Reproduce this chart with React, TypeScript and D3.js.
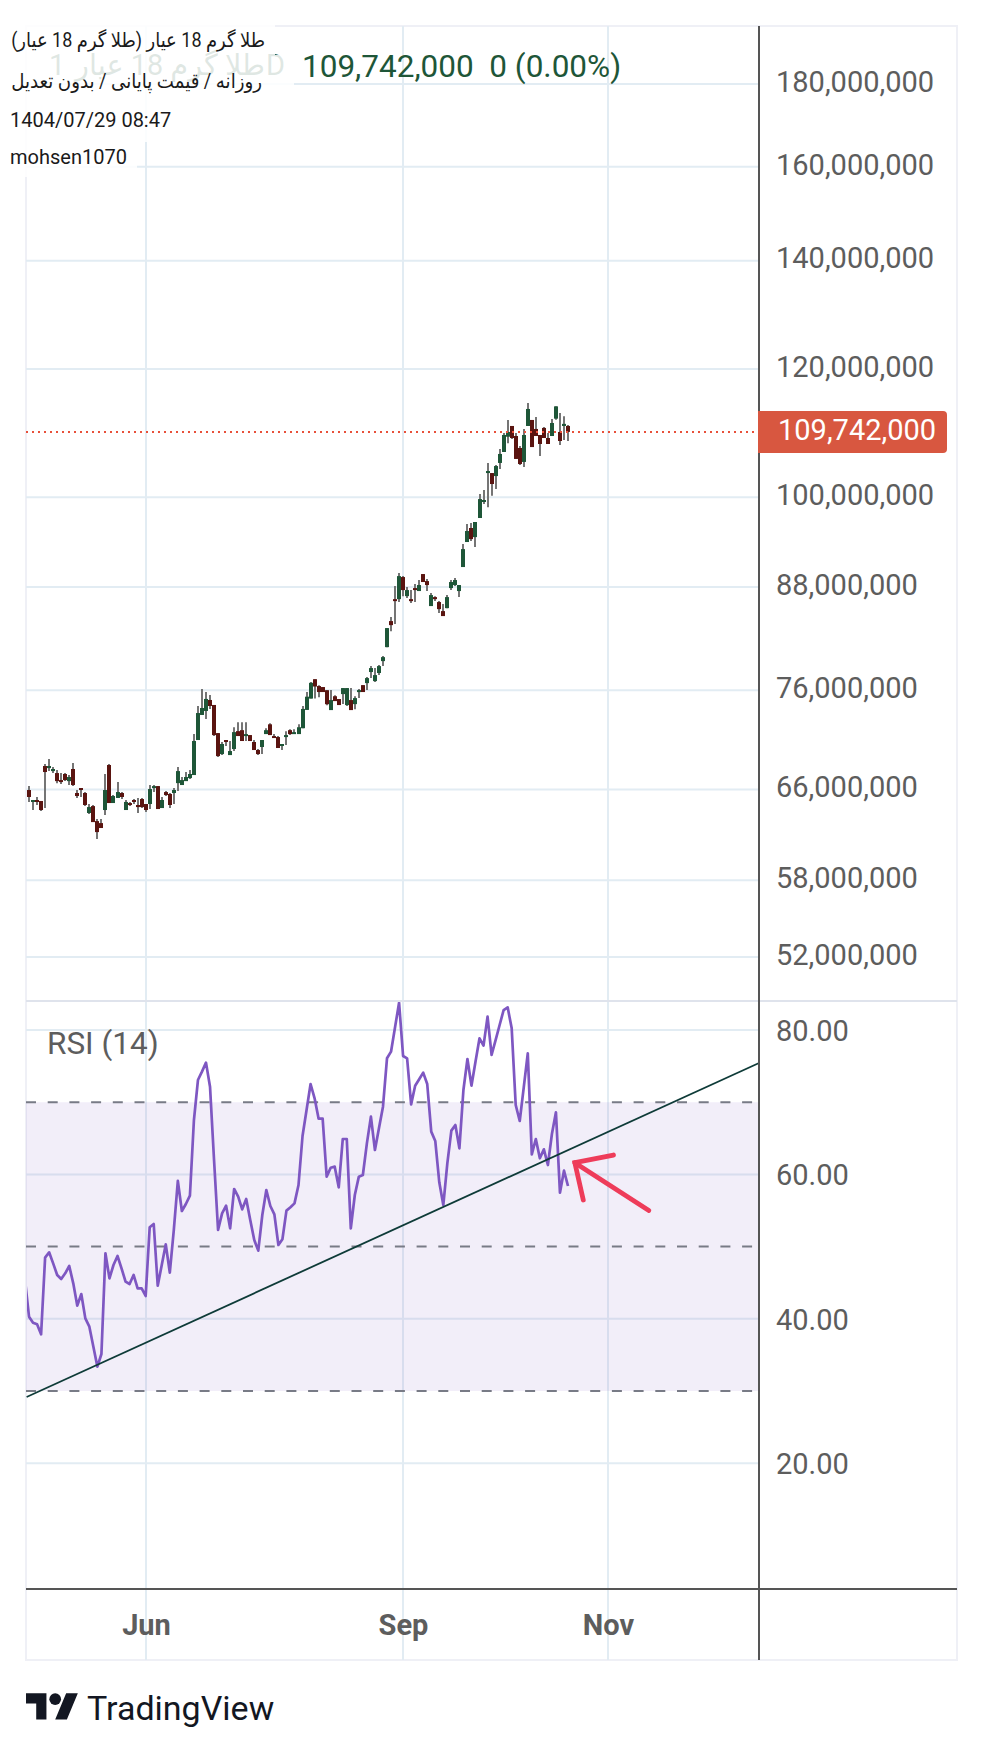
// @ts-nocheck
import * as d3 from 'd3';
import React, { useEffect, useRef } from 'react';

// daily candles, prices in millions
const opens = [
  68.42,
  65.94, 64.83, 65.01, 64.92, 68.23, 68.03, 67.74, 67.55, 66.88, 67.46,
  66.78, 67.94, 65.66, 66.13, 65.66, 63.82, 64.45, 63.09, 62.91, 64.09,
  68.33, 64.73, 65.2, 65.66, 64.09, 64.73, 65.01, 64.55, 65.1, 64.64,
  64.64, 66.13, 66.31, 64.27, 65.75, 65.57, 65.66, 66.59, 66.41, 66.78,
  67.07, 67.36, 70.8, 73.37, 73.79, 74.95, 74.42, 71.5, 69.4, 70.8,
  69.3, 69.9, 71.7, 71.8, 71.2, 71.3, 70.6, 69.8, 70.1, 71.4,
  72.4, 71.2, 71.1, 70.2, 71.1, 71.8, 71.4, 71.4, 72.0, 73.9,
  75.1, 77.2, 76.45, 76.34, 76.0, 73.88, 75.35, 75.05, 75.58, 74.41,
  74.94, 74.51, 75.8, 76.55, 76.77, 77.99, 76.99, 77.88, 79.21, 80.8,
  83.85, 86.51, 86.51, 89.27, 86.88, 86.51, 87.88, 87.51, 89.65, 88.76,
  85.66, 86.76, 86.15, 85.05, 85.41, 87.88, 88.26, 87.51, 90.55, 93.83,
  95.72, 94.49, 97.09, 99.33, 103.5, 103.5, 103.06, 105.0, 106.65, 108.99,
  110.67, 109.1, 107.26, 105.15, 110.67, 111.62, 110.2, 109.26, 110.36, 108.79,
  109.1, 111.83, 109.73, 110.67, 110.67,
];
const closes = [
  66.88,
  65.29, 65.01, 64.83, 64.09, 67.65, 68.23, 67.94, 66.78, 66.69, 66.88,
  67.17, 66.41, 65.38, 65.94, 64.55, 64.36, 63.0, 62.11, 62.47, 65.94,
  64.73, 65.38, 65.75, 65.29, 64.83, 64.55, 64.83, 64.36, 64.36, 64.09,
  66.03, 66.31, 64.18, 65.01, 65.47, 64.55, 65.94, 67.74, 66.88, 67.17,
  67.46, 70.7, 73.57, 74.1, 75.06, 74.31, 71.3, 69.2, 70.4, 70.6,
  69.7, 71.6, 71.2, 70.7, 71.4, 70.7, 69.8, 69.4, 70.8, 71.8,
  71.3, 71.0, 70.0, 70.4, 71.3, 71.4, 71.6, 72.1, 74.0, 75.3,
  76.8, 76.4, 75.8, 75.8, 74.5, 74.94, 74.83, 74.41, 76.23, 76.23,
  73.88, 75.15, 76.01, 75.8, 77.32, 78.43, 77.65, 78.65, 79.66, 83.02,
  83.37, 86.27, 89.39, 87.63, 87.63, 86.27, 87.63, 88.26, 88.64, 88.26,
  87.01, 86.51, 85.29, 84.45, 86.76, 88.64, 88.89, 88.26, 92.89, 95.31,
  94.22, 96.54, 99.74, 99.61, 103.8, 101.9, 104.54, 106.35, 109.26, 109.73,
  108.79, 105.6, 104.84, 109.26, 113.38, 107.4, 109.1, 107.87, 108.79, 107.87,
  111.14, 113.8, 108.33, 111.0, 109.742,
];
const highs = [
  68.42,
  66.31, 65.01, 65.29, 64.92, 68.42, 68.91, 68.13, 67.84, 67.55, 67.55,
  67.36, 68.52, 65.94, 66.13, 65.75, 64.64, 64.55, 63.27, 63.27, 67.46,
  68.42, 65.47, 66.69, 65.75, 65.01, 64.83, 65.1, 65.2, 65.2, 64.64,
  66.41, 66.41, 66.31, 65.29, 65.85, 65.66, 66.13, 68.13, 67.17, 67.65,
  67.84, 71.41, 74.31, 76.13, 75.8, 75.48, 74.42, 71.5, 70.6, 70.8,
  70.7, 72.1, 72.6, 72.6, 72.6, 71.3, 70.8, 69.9, 70.8, 72.0,
  72.5, 71.4, 71.2, 70.4, 71.7, 71.9, 71.9, 72.4, 74.3, 75.8,
  76.9, 77.2, 76.55, 76.34, 76.0, 76.01, 75.45, 75.05, 76.23, 76.23,
  76.23, 75.36, 76.12, 76.55, 77.43, 78.65, 78.43, 78.76, 79.78, 83.02,
  84.33, 88.13, 89.78, 89.39, 88.01, 87.63, 88.38, 88.89, 89.65, 89.02,
  87.26, 86.88, 86.27, 85.9, 87.01, 88.89, 89.14, 88.26, 93.56, 96.26,
  96.4, 96.54, 100.47, 101.04, 105.0, 103.5, 104.69, 107.1, 109.57, 111.62,
  110.67, 109.57, 107.57, 110.2, 114.33, 111.62, 112.1, 109.26, 110.51, 109.57,
  111.78, 113.8, 112.73, 112.2, 110.83,
];
const lows = [
  66.88,
  64.83, 64.09, 64.55, 64.0, 64.27, 67.74, 67.55, 66.59, 66.5, 66.78,
  66.41, 66.31, 65.2, 65.29, 64.45, 63.73, 63.0, 61.5, 62.47, 63.63,
  64.73, 64.73, 65.2, 65.1, 64.09, 64.45, 64.64, 63.82, 64.27, 63.91,
  64.18, 65.75, 64.18, 64.27, 65.38, 64.27, 64.64, 65.85, 66.41, 66.78,
  66.98, 67.36, 70.8, 73.37, 72.94, 74.0, 71.2, 69.1, 69.3, 70.2,
  69.3, 69.7, 71.2, 70.7, 70.7, 70.7, 69.8, 69.3, 69.4, 71.4,
  71.3, 71.0, 70.0, 69.8, 70.3, 71.3, 71.4, 71.4, 72.0, 73.9,
  75.1, 75.1, 75.25, 75.8, 74.4, 73.88, 74.83, 74.41, 74.51, 74.3,
  73.88, 73.98, 75.15, 75.8, 76.01, 77.32, 76.88, 77.65, 78.65, 80.8,
  82.66, 83.49, 86.15, 86.88, 86.64, 86.03, 86.15, 87.51, 88.64, 87.51,
  85.66, 86.27, 84.81, 84.45, 85.41, 87.63, 88.14, 86.76, 90.55, 93.83,
  93.96, 93.16, 97.09, 99.05, 98.6, 100.2, 101.18, 104.1, 106.65, 108.0,
  108.64, 105.6, 104.7, 104.4, 110.67, 107.4, 109.1, 106.05, 108.79, 107.87,
  109.1, 111.67, 107.7, 108.48, 108.33,
];
const rsiValues = [
  45.37,
  40.3, 39.46, 39.23, 37.85, 48.47, 49.21, 47.68, 46.07, 45.51, 46.3,
  47.31, 44.91, 41.82, 43.43, 40.06, 38.91, 36.14, 33.37, 35.12, 49.07,
  45.6, 47.45, 48.7, 46.99, 45.14, 44.82, 46.07, 44.22, 44.22, 43.16,
  52.67, 53.13, 44.59, 47.45, 50.31, 46.39, 52.3, 59.09, 54.93, 55.9,
  57.05, 67.53, 73.07, 74.23, 75.48, 72.15, 62.0, 52.3, 54.61, 55.67,
  52.53, 57.98, 56.92, 55.16, 56.59, 53.68, 50.91, 49.44, 54.38, 57.84,
  55.62, 54.47, 50.22, 51.01, 54.98, 55.44, 55.99, 58.53, 65.32, 68.92,
  72.52, 70.54, 67.72, 67.72, 59.69, 60.93, 61.07, 58.21, 64.9, 64.9,
  52.53, 57.15, 59.69, 59.92, 64.3, 68.0, 63.38, 66.38, 69.38, 76.08,
  77.0, 80.37, 83.79, 76.4, 76.08, 69.7, 72.29, 73.17, 74.09, 72.52,
  65.92, 64.63, 58.9, 55.76, 61.53, 66.06, 66.84, 63.61, 71.69, 75.98,
  72.29, 75.61, 78.85, 77.83, 81.85, 76.54, 78.61, 80.69, 82.77, 83.14,
  80.23, 69.61, 67.4, 72.06, 76.77, 62.78, 64.9, 62.23, 63.47, 61.3,
  65.6, 68.6, 57.47, 60.52, 58.39,
];

const priceTicks = [180, 160, 140, 120, 100, 88, 76, 66, 58, 52];
const rsiTicks = [80, 60, 40, 20];
const rsiBands = [70, 50, 30];
const timeTicks = [30.08, 93.98, 144.94];
const timeLabels = ['Jun', 'Sep', 'Nov'];
const lastPrice = 109.742;

// drawn annotations, in bar position / RSI value
const trendBars = [0.4, 182.5];
const trendRsi = [29.17, 75.43];
const arrowShaftBars = [155.1, 136.7];
const arrowShaftRsi = [55.0, 61.62];
const arrowHeadBars = [146.3, 136.7, 138.8];
const arrowHeadRsi = [62.68, 61.62, 56.45];

const WIDTH = 983;
const HEIGHT = 1753;
const FONT = 'Roboto, "Noto Sans", "DejaVu Sans", sans-serif';

export default function App() {
  const svgRef = useRef<SVGSVGElement>(null);

  useEffect(() => {
    if (!svgRef.current) return;

    const svg = d3.select(svgRef.current);
    svg.selectAll('*').remove();

    const left = 26;
    const right = 957;
    const axisX = 759;
    const top = 26;
    const paneSplit = 1001;
    const timeAxisY = 1589;
    const bottom = 1660;

    const x = d3.scaleLinear().domain([0, 135]).range([25, 568]);
    const yPrice = d3.scaleLog().domain([180, 52]).range([84, 957]);
    const yRsi = d3.scaleLinear().domain([80, 20]).range([1030, 1463.2]);

    svg
      .append('defs')
      .append('clipPath')
      .attr('id', 'plot')
      .append('rect')
      .attr('x', left + 1)
      .attr('y', top)
      .attr('width', axisX - left - 1)
      .attr('height', timeAxisY - top);

    svg.append('rect').attr('width', WIDTH).attr('height', HEIGHT).attr('fill', '#ffffff');

    // Frame
    svg
      .append('rect')
      .attr('x', left)
      .attr('y', top)
      .attr('width', right - left)
      .attr('height', bottom - top)
      .attr('fill', 'none')
      .attr('stroke', '#eff0f6')
      .attr('stroke-width', 2);

    // Grid
    const grid = svg.append('g').attr('stroke', '#e2ecf3').attr('stroke-width', 2);
    timeTicks.forEach(t => {
      grid
        .append('line')
        .attr('x1', x(t))
        .attr('x2', x(t))
        .attr('y1', top)
        .attr('y2', bottom);
    });
    priceTicks.forEach(p => {
      grid
        .append('line')
        .attr('x1', left)
        .attr('x2', axisX)
        .attr('y1', yPrice(p))
        .attr('y2', yPrice(p));
    });
    rsiTicks.forEach(v => {
      grid
        .append('line')
        .attr('x1', left)
        .attr('x2', axisX)
        .attr('y1', yRsi(v))
        .attr('y2', yRsi(v));
    });

    // RSI band
    svg
      .append('rect')
      .attr('x', left)
      .attr('y', yRsi(70))
      .attr('width', axisX - left)
      .attr('height', yRsi(30) - yRsi(70))
      .attr('fill', '#7e57c2')
      .attr('fill-opacity', 0.1);
    rsiBands.forEach(v => {
      svg
        .append('line')
        .attr('x1', left)
        .attr('x2', axisX)
        .attr('y1', yRsi(v))
        .attr('y2', yRsi(v))
        .attr('stroke', '#787b86')
        .attr('stroke-width', 2)
        .attr('stroke-dasharray', '10 11.7');
    });

    // Candles
    const candles = svg.append('g').attr('clip-path', 'url(#plot)');
    opens.forEach((open, i) => {
      const close = closes[i];
      const cx = Math.round(x(i));
      candles
        .append('line')
        .attr('x1', cx)
        .attr('x2', cx)
        .attr('y1', yPrice(highs[i]))
        .attr('y2', yPrice(lows[i]))
        .attr('stroke', '#757575')
        .attr('stroke-width', 2);
      const bodyTop = yPrice(Math.max(open, close));
      const bodyBottom = yPrice(Math.min(open, close));
      candles
        .append('rect')
        .attr('x', cx - 2)
        .attr('y', bodyTop)
        .attr('width', 4)
        .attr('height', Math.max(bodyBottom - bodyTop, 2))
        .attr('fill', close >= open ? '#1e5638' : '#5a1410');
    });

    // Last price line
    svg
      .append('line')
      .attr('x1', left)
      .attr('x2', axisX)
      .attr('y1', yPrice(lastPrice))
      .attr('y2', yPrice(lastPrice))
      .attr('stroke', '#e8503a')
      .attr('stroke-width', 2)
      .attr('stroke-dasharray', '2 4');

    // RSI line
    const rsiLine = d3
      .line<number>()
      .x((d, i) => x(i))
      .y(d => yRsi(d));
    svg
      .append('path')
      .datum(rsiValues)
      .attr('clip-path', 'url(#plot)')
      .attr('fill', 'none')
      .attr('stroke', '#7e57c2')
      .attr('stroke-width', 2.7)
      .attr('stroke-linejoin', 'round')
      .attr('d', rsiLine);

    // Trend line
    svg
      .append('line')
      .attr('x1', x(trendBars[0]))
      .attr('x2', x(trendBars[1]))
      .attr('y1', yRsi(trendRsi[0]))
      .attr('y2', yRsi(trendRsi[1]))
      .attr('stroke', '#0e3b38')
      .attr('stroke-width', 1.8);

    // Red arrow
    const annotation = d3
      .line<number>()
      .x(d => x(d[0]))
      .y(d => yRsi(d[1]));
    const arrowStyle = sel =>
      sel
        .attr('fill', 'none')
        .attr('stroke', '#ee3c5a')
        .attr('stroke-width', 4.8)
        .attr('stroke-linecap', 'round')
        .attr('stroke-linejoin', 'miter');
    svg
      .append('path')
      .attr('d', annotation(arrowShaftBars.map((b, i) => [b, arrowShaftRsi[i]])))
      .call(arrowStyle);
    svg
      .append('path')
      .attr('d', annotation(arrowHeadBars.map((b, i) => [b, arrowHeadRsi[i]])))
      .call(arrowStyle);

    // Pane separator and axis lines
    svg
      .append('line')
      .attr('x1', left)
      .attr('x2', right)
      .attr('y1', paneSplit)
      .attr('y2', paneSplit)
      .attr('stroke', '#dfe3ec')
      .attr('stroke-width', 2);
    svg
      .append('line')
      .attr('x1', left)
      .attr('x2', right)
      .attr('y1', timeAxisY)
      .attr('y2', timeAxisY)
      .attr('stroke', '#555555')
      .attr('stroke-width', 2);
    svg
      .append('line')
      .attr('x1', axisX)
      .attr('x2', axisX)
      .attr('y1', top)
      .attr('y2', bottom)
      .attr('stroke', '#555555')
      .attr('stroke-width', 2);

    // Axes
    const styleAxis = (g, size, weight) => {
      g.select('.domain').remove();
      g.selectAll('.tick line').remove();
      g.selectAll('text')
        .style('font-family', FONT)
        .style('font-size', `${size}px`)
        .style('font-weight', weight)
        .attr('fill', '#5d5d5d');
    };
    svg
      .append('g')
      .attr('transform', 'translate(776,-2)')
      .call(
        d3
          .axisRight(yPrice)
          .tickValues(priceTicks)
          .tickSize(0)
          .tickPadding(0)
          .tickFormat(d => d3.format(',')(d * 1e6))
      )
      .call(styleAxis, 29, 400);
    svg
      .append('g')
      .attr('transform', 'translate(776,1)')
      .call(
        d3
          .axisRight(yRsi)
          .tickValues(rsiTicks)
          .tickSize(0)
          .tickPadding(0)
          .tickFormat(d3.format('.2f'))
      )
      .call(styleAxis, 29, 400);
    svg
      .append('g')
      .attr('transform', `translate(0,${timeAxisY})`)
      .call(
        d3
          .axisBottom(x)
          .tickValues(timeTicks)
          .tickSize(0)
          .tickPadding(25)
          .tickFormat((d, i) => timeLabels[i])
      )
      .call(styleAxis, 29, 700);

    // Last price badge
    const badgeY = yPrice(lastPrice);
    svg
      .append('path')
      .attr(
        'd',
        `M758,${badgeY - 21}H943a4,4 0 0 1 4,4V${badgeY + 17}a4,4 0 0 1 -4,4H758Z`
      )
      .attr('fill', '#d85740');
    svg
      .append('text')
      .attr('x', 778)
      .attr('y', badgeY + 8)
      .attr('fill', '#ffffff')
      .style('font-family', FONT)
      .style('font-size', '29px')
      .text(d3.format(',')(lastPrice * 1e6));

    // RSI title
    svg
      .append('text')
      .attr('x', 47)
      .attr('y', 1054)
      .attr('fill', '#5d5d5d')
      .style('font-family', FONT)
      .style('font-size', '31.5px')
      .text('RSI (14)');

    // Chart legend, partly hidden by the watermark boxes
    const ghost = svg
      .append('g')
      .attr('fill', '#1e5638')
      .style('font-family', FONT)
      .style('font-size', '29px');
    ghost.append('text').attr('x', 49).attr('y', 75).text('1');
    const ghostTitle = ghost
      .append('text')
      .attr('direction', 'rtl')
      .attr('text-anchor', 'start')
      .text('طلا گرم 18 عیار');
    ghostTitle.attr(
      'transform',
      `translate(265,75) scale(${190 / ghostTitle.node().getComputedTextLength()},1)`
    );
    ghost.append('text').attr('x', 266).attr('y', 75).text('D');

    svg
      .append('text')
      .attr('x', 302)
      .attr('y', 77)
      .attr('fill', '#1e5638')
      .style('white-space', 'pre')
      .style('font-family', FONT)
      .style('font-size', '31.5px')
      .text('109,742,000  0 (0.00%)');

    const boxes = [
      [0, 22, 275, 33],
      [0, 55, 294, 50],
      [0, 105, 184, 37],
      [0, 142, 137, 35],
    ];
    boxes.forEach(([bx, by, bw, bh]) => {
      svg
        .append('rect')
        .attr('x', bx)
        .attr('y', by)
        .attr('width', bw)
        .attr('height', bh)
        .attr('fill', '#ffffff')
        .attr('fill-opacity', 0.86);
    });

    const note = svg
      .append('g')
      .attr('fill', '#1a1a1a')
      .style('font-family', FONT)
      .style('font-size', '20px');

    // The Arabic fallback font runs wider than the original, squeeze to the same extent
    const fitRtl = (label, rightX, baseline, width) => {
      const t = note.append('text').attr('direction', 'rtl').text(label);
      const k = width / t.node().getComputedTextLength();
      t.attr('transform', `translate(${rightX},${baseline}) scale(${k},1)`);
    };
    fitRtl('طلا گرم 18 عیار (طلا گرم 18 عیار)', 265, 47, 254);
    fitRtl('روزانه / قیمت پایانی / بدون تعدیل', 262, 88, 251);
    note.append('text').attr('x', 10).attr('y', 127).text('1404/07/29 08:47');
    note.append('text').attr('x', 10).attr('y', 164).text('mohsen1070');

    // TradingView logo
    const logo = svg
      .append('g')
      .attr('transform', 'translate(26,1687.5) scale(1.46)')
      .attr('fill', '#131722');
    logo.append('path').attr('d', 'M14 22H7V11H0V4h14v18zM28 22h-8l7.5-18h8L28 22z');
    logo.append('circle').attr('cx', 20).attr('cy', 8).attr('r', 4);
    svg
      .append('text')
      .attr('x', 87)
      .attr('y', 1720)
      .attr('fill', '#131722')
      .style('font-family', FONT)
      .style('font-size', '34px')
      .text('TradingView');
  }, []);

  return (
    <svg
      ref={svgRef}
      width={WIDTH}
      height={HEIGHT}
      style={{ position: 'absolute', left: 0, top: 0, display: 'block' }}
    />
  );
}
